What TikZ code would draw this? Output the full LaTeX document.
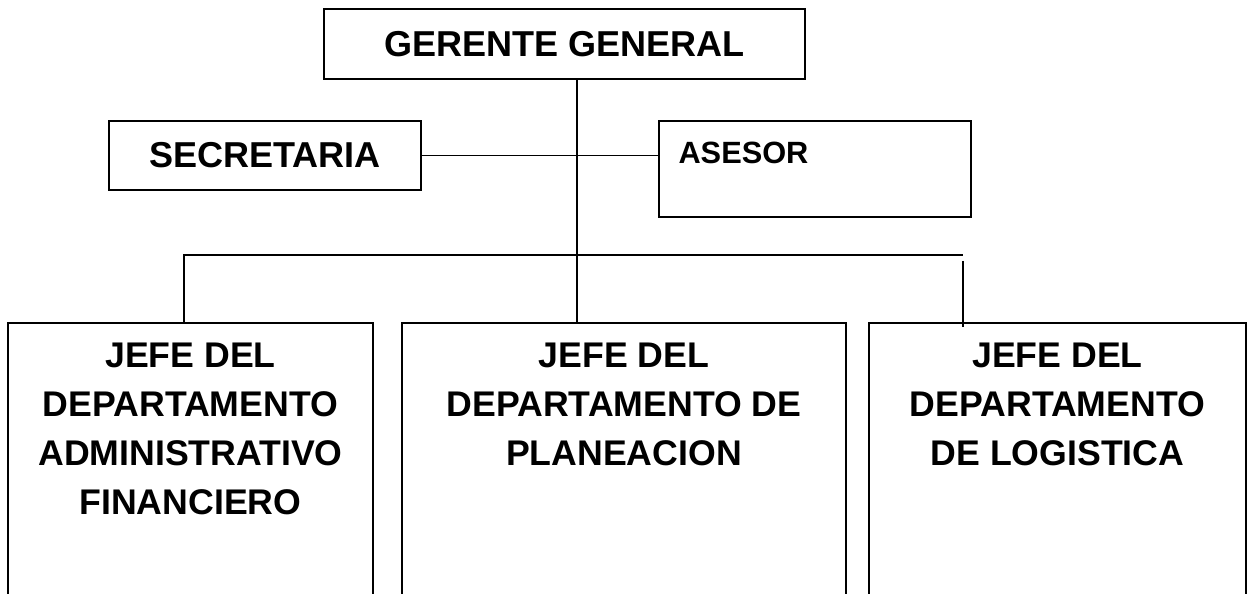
\documentclass[tikz,border=0pt]{standalone}
\usepackage{fontspec}
\setmainfont{Liberation Sans}
\usepackage{tikz}
\usetikzlibrary{positioning}
\tikzset{
    caja/.style={draw, rectangle, line width=0.95pt, inner sep=0pt, font=\fontsize{20.5}{24.5}\selectfont\bfseries},
    rotulo/.style={inner sep=0pt, align=center, font=\fontsize{20.3}{27.9}\selectfont\bfseries},
    linea/.style={line width=0.7pt}}

\begin{document}
\begin{tikzpicture}[x=0.02cm,y=-0.02cm]
\path[use as bounding box, clip] (0,0) rectangle (1252,594);

\coordinate (eje) at (577,0);
\coordinate (busL) at (184,255);
\coordinate (busR) at (963,255);

\node[caja, minimum width=9.62cm, minimum height=1.4cm] (gerente) at (564.5,44) {GERENTE GENERAL};
\node[caja, minimum width=6.24cm, minimum height=1.38cm] (secretaria) at (265,155.5) {SECRETARIA};
\node[caja, minimum width=6.24cm, minimum height=1.92cm] (asesor) at (815,169) {};
\node[rotulo, font=\fontsize{17.5}{20}\selectfont\bfseries, below right=0.43cm and 0.4cm of asesor.north west] (asesortxt) {ASESOR};

\node[caja, minimum width=7.3cm, minimum height=6.34cm] (admin) at (190.5,481.5) {};
\node[caja, minimum width=8.88cm, minimum height=6.34cm] (planea) at (624,481.5) {};
\node[caja, minimum width=7.54cm, minimum height=6.34cm] (logistica) at (1057.5,481.5) {};
\node[rotulo, below=0.4cm of admin.north] (admintxt) {JEFE DEL\\DEPARTAMENTO\\ADMINISTRATIVO\\FINANCIERO};
\node[rotulo, below=0.4cm of planea.north] (planeatxt) {JEFE DEL\\DEPARTAMENTO DE\\PLANEACION};
\node[rotulo, below=0.4cm of logistica.north] (logisticatxt) {JEFE DEL\\DEPARTAMENTO\\DE LOGISTICA};

\draw[linea] (gerente.south -| eje) -- (planea.north -| eje);
\draw[linea] (secretaria.east) -- (asesor.west |- secretaria.east);
\draw[linea] (admin.north -| busL) -- (busL) -- (busR);
\draw[linea] ([yshift=-0.12cm]busR) -- ([yshift=-0.1cm]logistica.north -| busR);
\end{tikzpicture}
\end{document}
